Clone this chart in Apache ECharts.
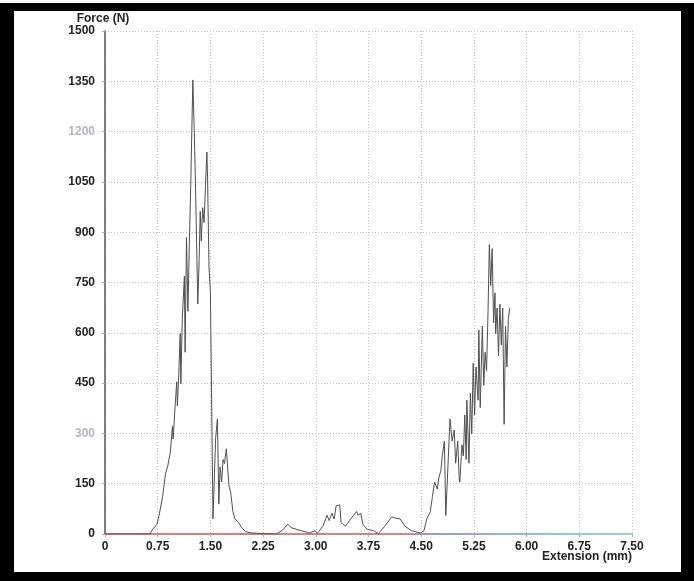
<!DOCTYPE html>
<html>
<head>
<meta charset="utf-8">
<script src="https://cdn.jsdelivr.net/npm/echarts@6/dist/echarts.min.js"></script>
<style>
html,body{margin:0;padding:0;background:#fff;}
#chart{width:694px;height:581px;}
</style>
</head>
<body>
<div id="chart"></div>
<script>
// Data
var extension = [0, 0.64, 0.67, 0.74, 0.77, 0.82, 0.86, 0.89, 0.93, 0.96, 0.97, 0.99, 1.02, 1.03, 1.05, 1.07, 1.08, 1.10, 1.13, 1.14, 1.16, 1.18, 1.20, 1.22, 1.25, 1.27, 1.29, 1.32, 1.34, 1.355, 1.37, 1.39, 1.41, 1.43, 1.45, 1.46, 1.48, 1.50, 1.537, 1.575, 1.60, 1.62, 1.638, 1.66, 1.68, 1.70, 1.727, 1.745, 1.764, 1.79, 1.82, 1.85, 1.90, 1.95, 2.0, 2.09, 2.28, 2.44, 2.53, 2.60, 2.66, 2.79, 2.91, 2.99, 3.02, 3.10, 3.16, 3.19, 3.23, 3.26, 3.29, 3.34, 3.36, 3.42, 3.48, 3.54, 3.58, 3.60, 3.64, 3.67, 3.73, 3.82, 3.89, 3.98, 4.08, 4.14, 4.20, 4.27, 4.36, 4.49, 4.54, 4.58, 4.63, 4.66, 4.69, 4.73, 4.75, 4.78, 4.80, 4.83, 4.85, 4.88, 4.91, 4.94, 4.97, 4.99, 5.02, 5.04, 5.05, 5.08, 5.10, 5.12, 5.14, 5.15, 5.18, 5.20, 5.22, 5.24, 5.26, 5.28, 5.31, 5.32, 5.34, 5.37, 5.39, 5.41, 5.43, 5.45, 5.47, 5.49, 5.51, 5.53, 5.55, 5.56, 5.58, 5.60, 5.62, 5.64, 5.66, 5.68, 5.70, 5.72, 5.74, 5.76];
var force = [0, 0, 12, 29, 56, 112, 178, 200, 244, 321, 283, 355, 454, 382, 476, 598, 448, 642, 769, 542, 885, 664, 863, 1039, 1354, 1205, 1017, 686, 818, 962, 874, 973, 929, 1039, 1139, 1062, 796, 720, 45, 287, 343, 89, 200, 155, 222, 210, 254, 200, 144, 122, 67, 45, 34, 18, 7, 3, 1, 0, 12, 29, 18, 10, 3, 10, 1, 23, 56, 40, 62, 45, 84, 87, 34, 23, 40, 56, 67, 56, 62, 29, 14, 10, 1, 23, 51, 47, 45, 23, 10, 3, 10, 45, 67, 112, 155, 134, 167, 189, 233, 277, 55, 200, 343, 277, 310, 211, 277, 167, 155, 266, 233, 355, 222, 399, 211, 420, 299, 509, 355, 498, 399, 608, 377, 620, 443, 542, 487, 653, 863, 741, 851, 630, 719, 597, 674, 531, 685, 564, 674, 327, 620, 498, 642, 674];
var xTicks = [0, 0.75, 1.5, 2.25, 3, 3.75, 4.5, 5.25, 6, 6.75, 7.5];
var yTicks = [0, 150, 300, 450, 600, 750, 900, 1050, 1200, 1350, 1500];
var fadedYLabels = [300, 1200];

var points = extension.map(function (x, i) { return [x, force[i]]; });
var FONT = "'Liberation Sans', Arial, sans-serif";

var chart = echarts.init(document.getElementById('chart'), null, {renderer: 'canvas'});
chart.setOption({
  backgroundColor: '#ffffff',
  animation: false,
  grid: {left: 105, right: 62, top: 31, bottom: 47, containLabel: false},
  xAxis: {
    type: 'value',
    min: xTicks[0],
    max: xTicks[xTicks.length - 1],
    interval: 0.75,
    axisLine: {show: true, onZero: false, lineStyle: {
      width: 1.5,
      color: new echarts.graphic.LinearGradient(0, 0, 1, 0, [
        {offset: 0, color: '#e2504a'},
        {offset: 0.56, color: '#d65a58'},
        {offset: 0.62, color: '#7d7cc4'},
        {offset: 0.85, color: '#62b9dc'},
        {offset: 1, color: '#72c8e2'}
      ])
    }},
    axisTick: {show: true, length: 3, lineStyle: {color: '#aaa'}},
    axisLabel: {
      margin: 7,
      color: '#222',
      fontFamily: FONT,
      fontWeight: 'bold',
      fontSize: 12,
      formatter: function (v) { return v === 0 ? '0' : v.toFixed(2); }
    },
    splitLine: {show: true, lineStyle: {color: '#c2c2c2', type: [1, 2], width: 1}}
  },
  yAxis: {
    type: 'value',
    min: yTicks[0],
    max: yTicks[yTicks.length - 1],
    interval: 150,
    name: 'Force (N)',
    nameLocation: 'end',
    nameGap: 6,
    nameTextStyle: {color: '#222', fontFamily: FONT, fontWeight: 'bold', fontSize: 12, padding: [0, 4, 0, 0]},
    axisLine: {show: true, lineStyle: {color: '#555', width: 1.5}},
    axisTick: {show: true, length: 3, lineStyle: {color: '#aaa'}},
    axisLabel: {
      margin: 10,
      fontFamily: FONT,
      fontWeight: 'bold',
      fontSize: 12,
      formatter: function (v) {
        return fadedYLabels.indexOf(v) >= 0 ? '{f|' + v + '}' : '{n|' + v + '}';
      },
      rich: {
        n: {color: '#222', fontFamily: FONT, fontWeight: 'bold', fontSize: 12},
        f: {color: '#aeb4c4', fontFamily: FONT, fontWeight: 'bold', fontSize: 12}
      }
    },
    splitLine: {show: true, lineStyle: {color: '#c2c2c2', type: [1, 2], width: 1}}
  },
  series: [{
    type: 'line',
    data: points,
    showSymbol: false,
    symbol: 'none',
    smooth: false,
    lineStyle: {color: '#4f4f4f', width: 1},
    z: 5
  }],
  graphic: [
    {type: 'text', right: 62, top: 551, style: {text: 'Extension (mm)', fill: '#222', font: 'bold 12px ' + FONT, textAlign: 'right'}},
    {type: 'rect', shape: {x: 0, y: 3, width: 694, height: 8}, style: {fill: '#000'}},
    {type: 'rect', shape: {x: 0, y: 572, width: 694, height: 9}, style: {fill: '#000'}},
    {type: 'rect', shape: {x: 0, y: 3, width: 14, height: 578}, style: {fill: '#000'}},
    {type: 'rect', shape: {x: 681, y: 3, width: 13, height: 578}, style: {fill: '#000'}}
  ]
});
</script>
</body>
</html>
